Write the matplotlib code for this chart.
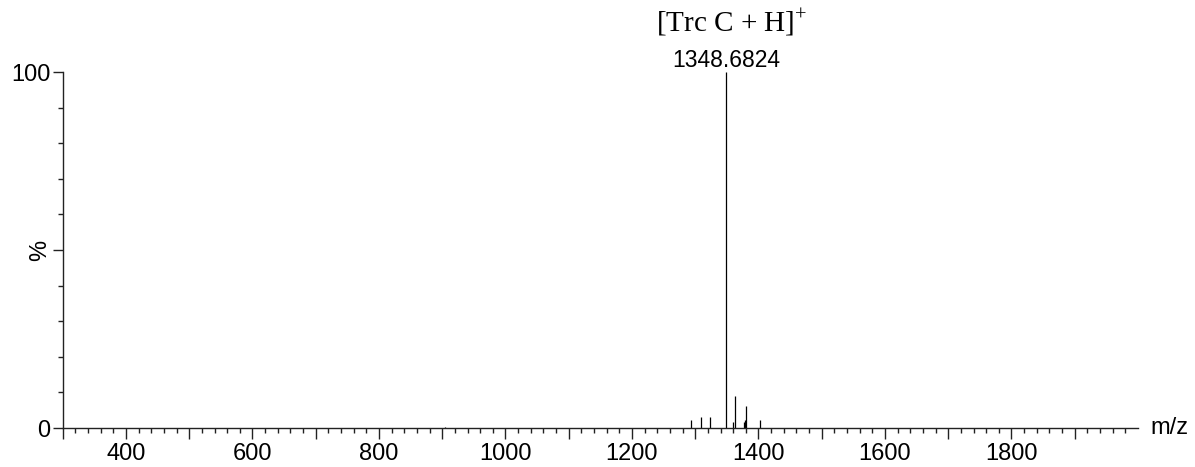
import numpy as np
import matplotlib
matplotlib.use("Agg")
import matplotlib.pyplot as plt
from matplotlib.ticker import FixedLocator, FuncFormatter

plt.rcParams['font.family'] = ['Liberation Sans', 'DejaVu Sans']
plt.rcParams['mathtext.fontset'] = 'custom'
plt.rcParams['mathtext.rm'] = 'Liberation Serif'

# peak list (m/z, relative intensity %)
mz = [905.0, 1293.3, 1309.1, 1323.4, 1348.6824, 1359.1, 1362.3,
      1376.5, 1378.1, 1380.3, 1402.5]
intensity = [0.3, 2.3, 3.0, 3.2, 100.0, 1.8, 9.1, 1.8, 2.3, 6.3, 2.2]

base_mz = 1348.6824
base_label = '1348.6824'
ion_label = r'[Trc C + H]$^{+}$'

fig = plt.figure(figsize=(11.95, 4.67), dpi=100)
ax = fig.add_axes([0.0525, 0.0835, 0.8998, 0.7623])

ax.vlines(mz, 0, intensity, color='black', lw=0.9)

ax.set_xlim(300, 2000)
ax.set_ylim(0, 100)

for s in ['top', 'right']:
    ax.spines[s].set_visible(False)
for s in ['left', 'bottom']:
    ax.spines[s].set_color('#222222')
    ax.spines[s].set_linewidth(1.0)

# x ticks: long every 100, labelled every 200, short every 20
ax.xaxis.set_major_locator(FixedLocator(np.arange(300, 2000, 100)))
ax.xaxis.set_minor_locator(FixedLocator(np.arange(320, 2000, 20)))
ax.xaxis.set_major_formatter(FuncFormatter(
    lambda v, p: '%d' % v if int(round(v)) % 200 == 0 else ''))
ax.tick_params(axis='x', which='major', length=8, width=1, color='#222222',
               labelsize=17, pad=3)
ax.tick_params(axis='x', which='minor', length=3.8, width=1, color='#222222')

# y ticks
ax.yaxis.set_major_locator(FixedLocator([0, 50, 100]))
ax.yaxis.set_minor_locator(FixedLocator(np.arange(10, 100, 10)))
ax.set_yticklabels(['0', '%', '100'])
ax.tick_params(axis='y', which='major', length=7.2, width=1, color='#222222',
               labelsize=17, pad=1.5)
ax.tick_params(axis='y', which='minor', length=3.6, width=1, color='#222222')
pct = ax.get_yticklabels()[1]
pct.set_rotation(90)
pct.set_va('center')

ax.text(1.012, 0, 'm/z', transform=ax.transAxes, ha='left', va='center',
        fontsize=17)

ax.annotate(base_label, xy=(base_mz, 100), xytext=(0, 3.8),
            textcoords='offset points', ha='center', va='baseline',
            fontsize=16.5, annotation_clip=False)
ax.annotate(ion_label, xy=(base_mz, 100), xytext=(4, 28.8),
            textcoords='offset points', ha='center', va='baseline',
            fontsize=21, family='Liberation Serif', annotation_clip=False)

fig.savefig('out.png', dpi=100)
